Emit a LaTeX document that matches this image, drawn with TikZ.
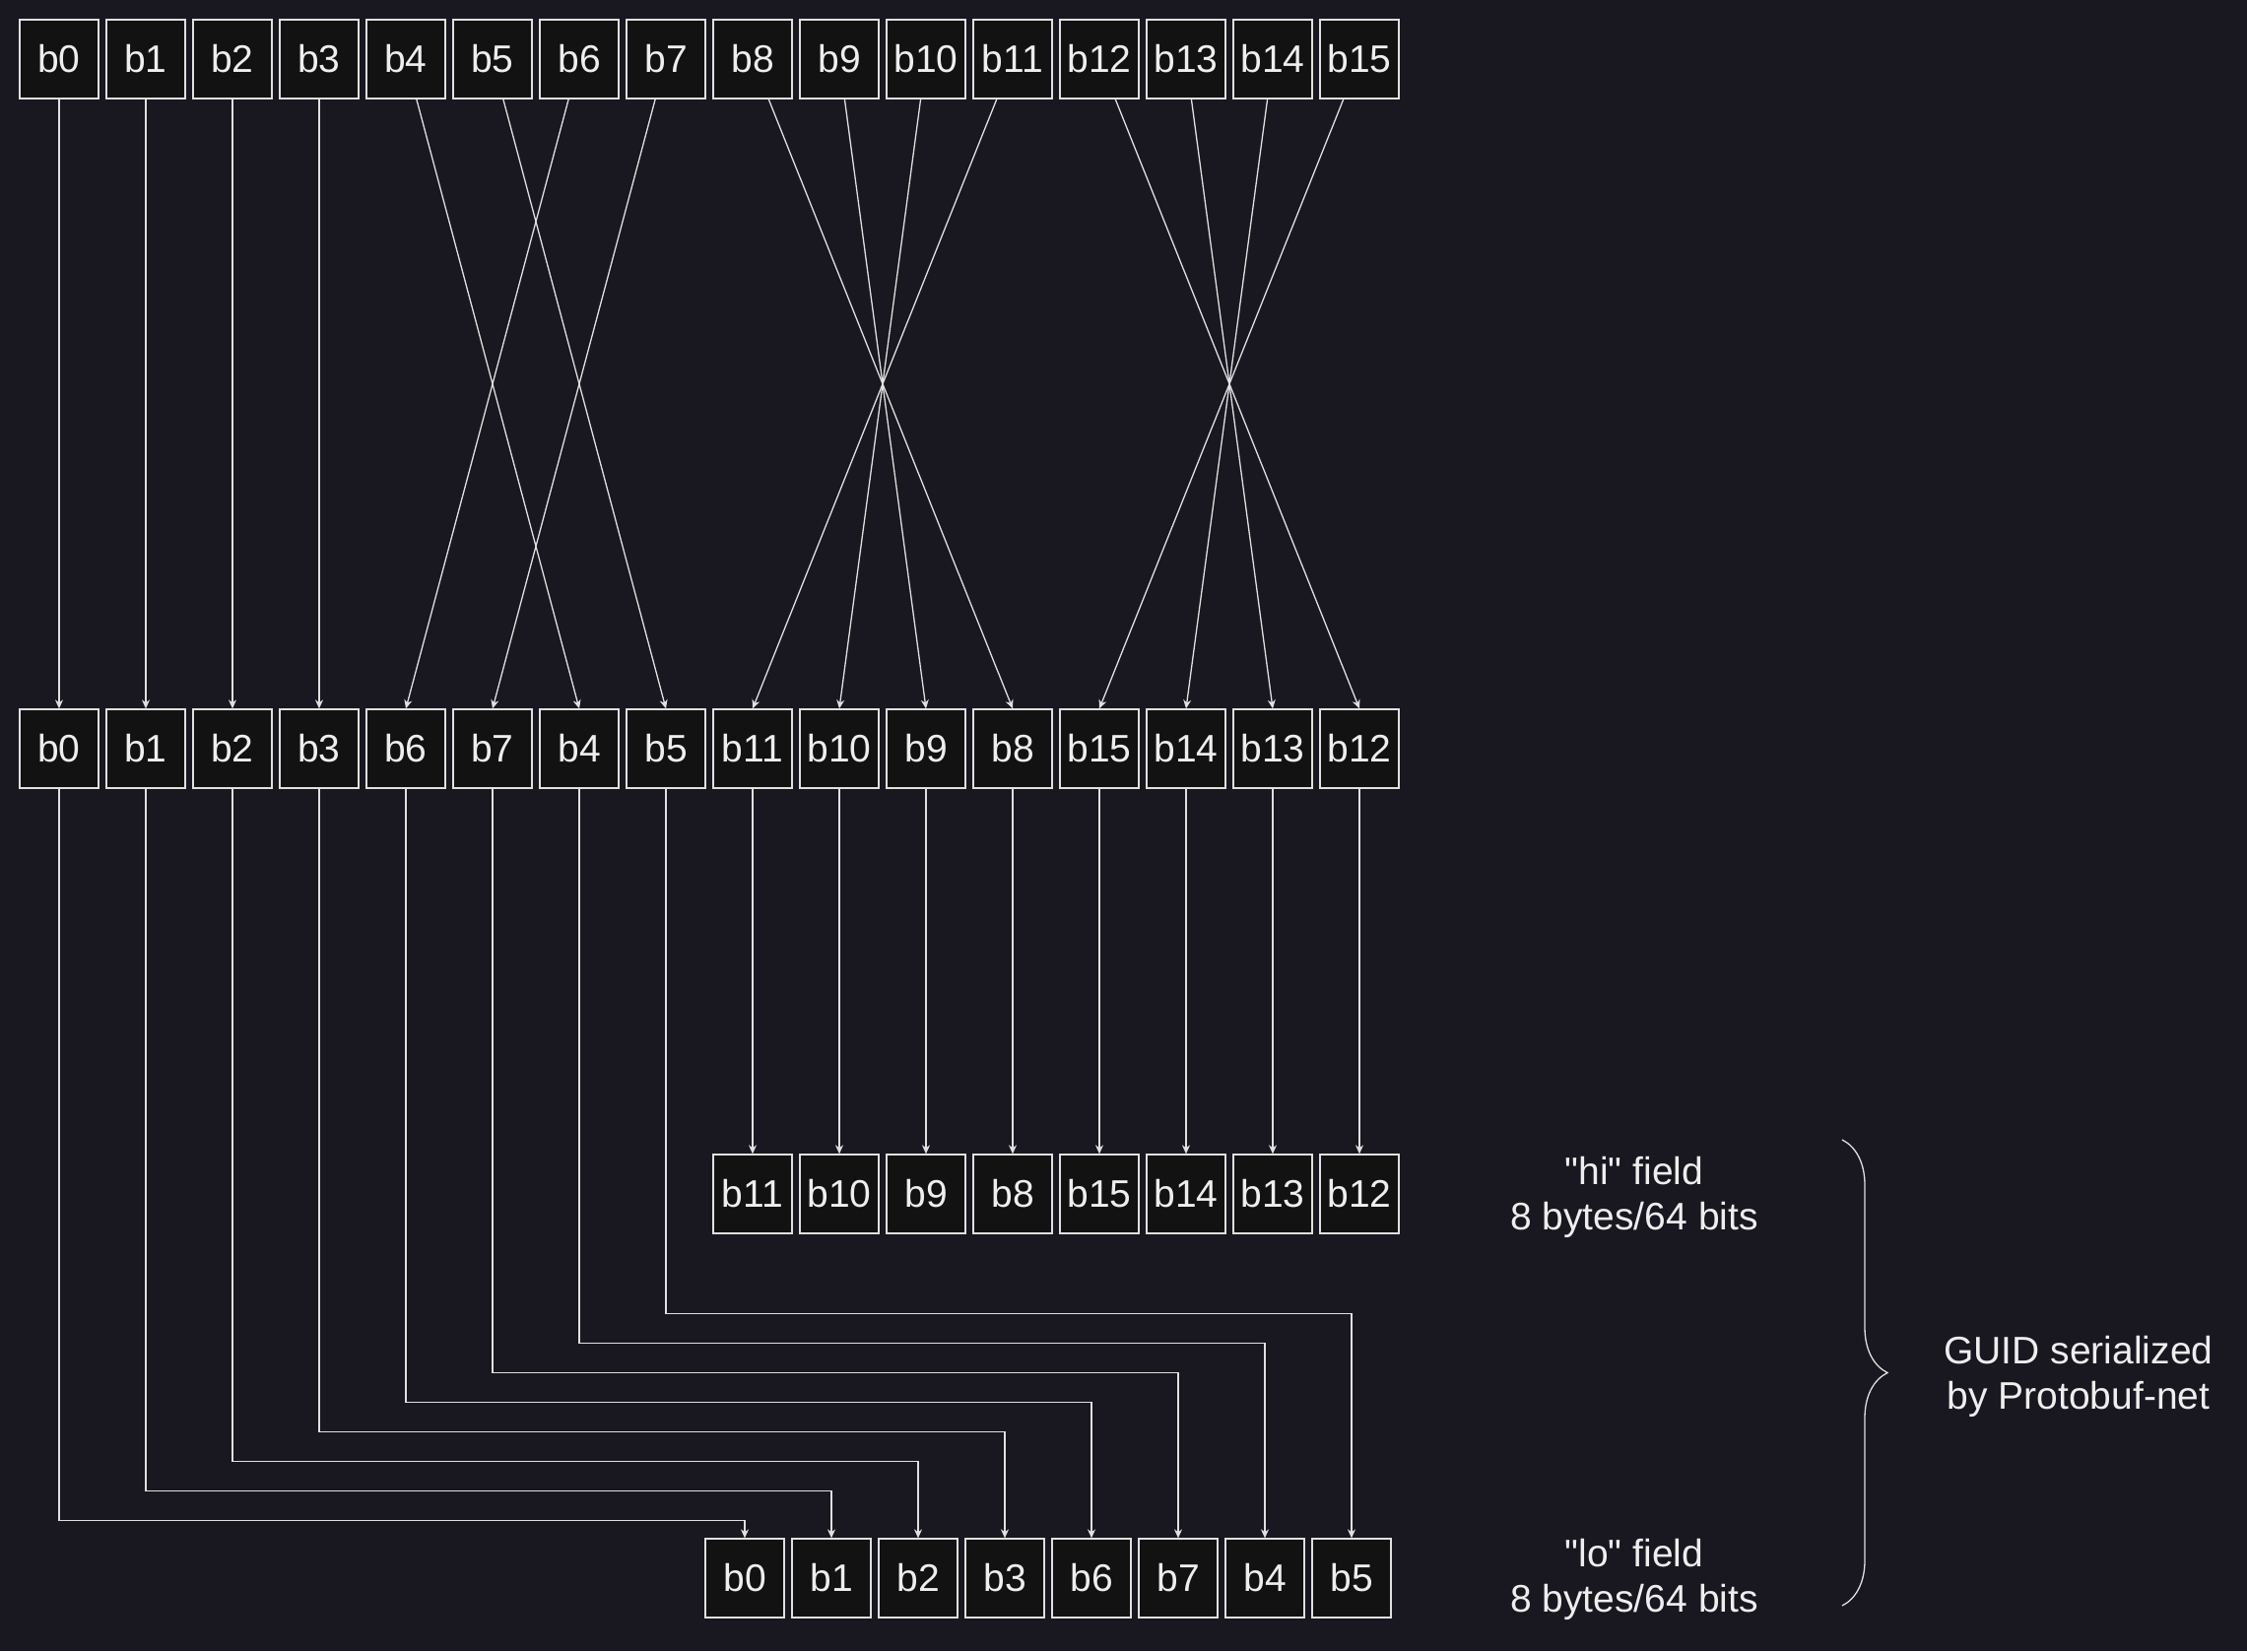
\documentclass[tikz,border=0pt]{standalone}
\usepackage{fontspec}
\setmainfont{Liberation Sans}[Ligatures=TeXOff]
\usepackage{tikz}
\usetikzlibrary{decorations.pathreplacing, arrows.meta}
\tikzset{>={Stealth[length=9pt,width=8pt]}}
\usepackage{xcolor}
\definecolor{bgcol}{HTML}{19171F}
\definecolor{boxfill}{HTML}{121212}
\definecolor{linecol}{HTML}{E0E0E0}
\definecolor{txtcol}{HTML}{EEEEEE}
\tikzset{
  byte/.style={draw=linecol, fill=boxfill, text=txtcol, line width=1.3pt,
    minimum width=80pt, minimum height=80pt, inner sep=0pt,
    font=\fontsize{39}{46}\selectfont},
  conn/.style={draw=linecol, line width=1.3pt, ->},
  lbl/.style={text=txtcol, align=center, font=\fontsize{39}{46}\selectfont}
}

\begin{document}
\begin{tikzpicture}[x=1pt, y=-1pt]
% background
\fill[bgcol] (0,0) rectangle (2281,1676);
\useasboundingbox (0,0) rectangle (2281,1676);

% top row
\foreach \x in {0,...,15}
\node[byte] (t\x) at ({60+88*\x},60) {b\x};

% middle row
\foreach \descr [count=\x from 0] in {0,1,2,3,6,7,4,5,11,10,9,8,15,14,13,12}
\node[byte] (m\x) at ({60+88*\x},760) {b\descr};

% "hi" row
\foreach \descr [count=\x from 8] in {11,10,9,8,15,14,13,12}
\node[byte] (h\x) at ({60+88*\x},1212) {b\descr};

% "lo" row
\foreach \descr [count=\x from 0] in {0,1,2,3,6,7,4,5}
\node[byte] (l\x) at ({756+88*\x},1602) {b\descr};

% top to middle
\foreach \s/\t in {0/0,1/1,2/2,3/3,4/6,5/7,6/4,7/5,8/11,9/10,10/9,11/8,12/15,13/14,14/13,15/12}
\draw[conn] (t\s) -- (m\t.north);

% middle to hi
\foreach \x in {8,...,15}
\draw[conn] (m\x) -- (h\x);

% middle to lo
\foreach \x in {0,...,7}
\draw[conn] (m\x.south) -- ++(0,{743-30*\x}) -| (l\x.north);

% field labels
\node[lbl] (hi) at (1659,1215) {"hi" field\\8 bytes/64 bits};
\node[lbl] (lo) at (1659,1603) {"lo" field\\8 bytes/64 bits};

% brace
\draw[linecol, line width=1.3pt, decorate, decoration={brace, amplitude=46pt}]
  (1870,1157) -- (1870,1630);
\node[lbl] (guid) at (2110,1397) {GUID serialized\\by Protobuf-net};
\end{tikzpicture}
\end{document}
